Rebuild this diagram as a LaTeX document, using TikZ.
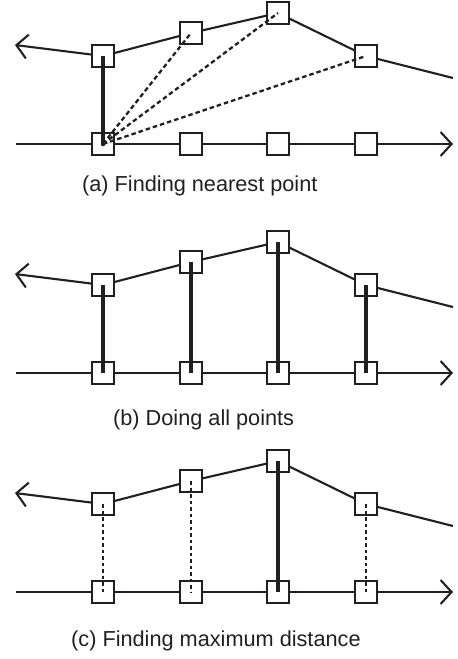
\documentclass[tikz,border=0pt]{standalone}
\usepackage{fontspec}
\setmainfont{Liberation Sans}
\usetikzlibrary{arrows.meta,backgrounds}
\definecolor{ink}{HTML}{231F20}
\newcommand\mypanel[2]{%
  \begin{scope}[shift={(0,#2)}]
    \coordinate (#1L) at (15,-99);
    \coordinate (#1R) at (453,-66);
    \coordinate (#1s) at (16,0);
    \coordinate (#1e) at (453,0);
    \node[ptbox] (#1b1) at (103,0) {};
    \node[ptbox] (#1b2) at (191,0) {};
    \node[ptbox] (#1b3) at (278,0) {};
    \node[ptbox] (#1b4) at (366,0) {};
    \node[ptbox] (#1t1) at (103,-88) {};
    \node[ptbox] (#1t2) at (191,-111) {};
    \node[ptbox] (#1t3) at (278,-131) {};
    \node[ptbox] (#1t4) at (366,-88) {};
    \begin{pgfonlayer}{background}
      \draw[curve,barb] (#1s) -- (#1b1.center) -- (#1b2.center) -- (#1b3.center) -- (#1b4.center) -- (#1e);
      \draw[curve,barb] (#1R) -- (#1t4.center) -- (#1t3.center) -- (#1t2.center) -- (#1t1.center) -- (#1L);
    \end{pgfonlayer}
  \end{scope}}
\begin{document}
\begin{tikzpicture}[x=1pt,y=-1pt,
  ptbox/.style={draw=ink, line width=2.1pt, fill=white, minimum size=22pt, inner sep=0pt},
  curve/.style={draw=ink, line width=2.1pt, line join=round},
  barb/.style={-{Straight Barb[length=11pt,width=24pt,line width=2.1pt]}},
  thickline/.style={draw=ink, line width=3.5pt},
  dashline/.style={draw=ink, line width=2.3pt, dash pattern=on 4.5pt off 3pt},
  dotline/.style={draw=ink, line width=2.3pt, dash pattern=on 3.5pt off 3pt},
  captext/.style={anchor=base west, inner sep=0pt, text=ink, font=\fontsize{21.7}{26}\selectfont}]
\useasboundingbox (0,0) rectangle (458,659);
% (a)
\mypanel{a}{144}
\draw[thickline] (at1.center) -- (ab1.center);
\draw[dashline] (ab1.center) -- (at2.center);
\draw[dashline] (ab1.center) -- (at3.center);
\draw[dashline] (ab1.center) -- (at4.center);
\fill[ink] (ab1.center) circle (2.3pt);
\node[captext] (capa) at (82,191) {(a) Finding nearest point};
% (b)
\mypanel{b}{373}
\draw[thickline] (bt1.center) -- (bb1.center);
\draw[thickline] (bt2.center) -- (bb2.center);
\draw[thickline] (bt3.center) -- (bb3.center);
\draw[thickline] (bt4.center) -- (bb4.center);
\node[captext] (capb) at (113,425) {(b) Doing all points};
% (c)
\mypanel{c}{592}
\draw[dotline] (ct1.center) -- (cb1.center);
\draw[dotline] (ct2.center) -- (cb2.center);
\draw[thickline] (ct3.center) -- (cb3.center);
\draw[dotline] (ct4.center) -- (cb4.center);
\node[captext] (capc) at (71,646) {(c) Finding maximum distance};
\end{tikzpicture}
\end{document}
